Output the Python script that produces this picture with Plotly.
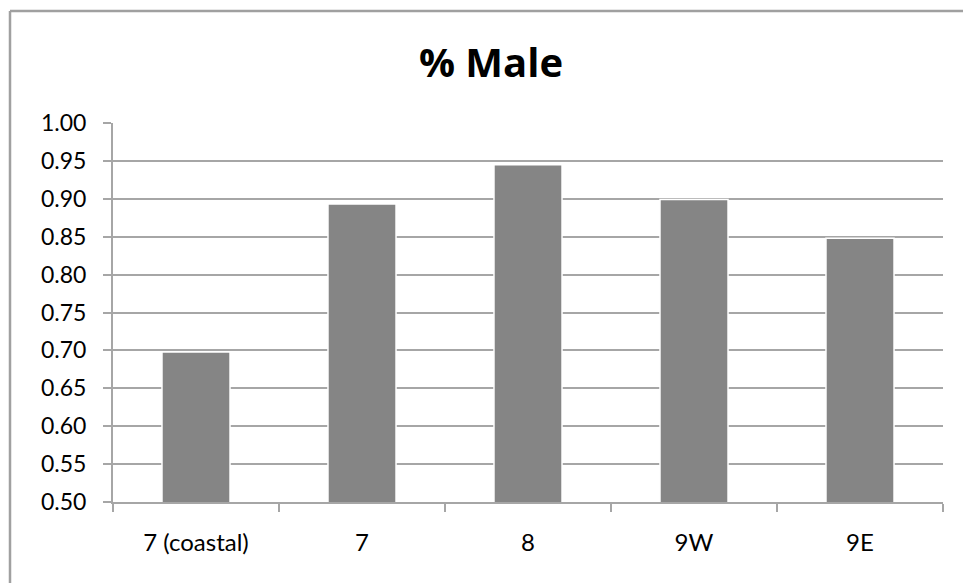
import plotly.graph_objects as go

# Share of males by area
areas = ["7 (coastal)", "7", "8", "9W", "9E"]
pct_male = [0.698, 0.893, 0.945, 0.899, 0.848]
y_ticks = [0.50, 0.55, 0.60, 0.65, 0.70, 0.75, 0.80, 0.85, 0.90, 0.95, 1.00]
y_tick_labels = [f"{v:.2f}" for v in y_ticks]

W, H = 963, 583
GRID = "#a6a6a6"
FRAME = "#a0a0a0"
FONT = "Lato"

fig = go.Figure(
    go.Bar(
        x=areas,
        y=pct_male,
        width=0.41,
        marker=dict(color="#858585", line=dict(color="#ffffff", width=1.5)),
        hoverinfo="skip",
    )
)

# chart frame: top and left edges (the rest runs past the page)
frame_left = -103 / 830
frame_top = 1 + 112 / 379

fig.update_layout(
    width=W,
    height=H,
    margin=dict(l=113, r=20, t=123, b=81),
    paper_bgcolor="#ffffff",
    plot_bgcolor="#ffffff",
    showlegend=False,
    font=dict(family=FONT, size=23, color="#000000"),
    title=dict(
        text="<b>% Male</b>",
        font=dict(family="Open Sans", size=40, color="#000000"),
        x=491 / W,
        xanchor="center",
        y=1 - 63 / H,
        yanchor="middle",
    ),
    shapes=[
        dict(type="line", xref="paper", yref="paper",
             x0=frame_left, x1=2.0, y0=frame_top, y1=frame_top,
             line=dict(color=FRAME, width=2.5), layer="below"),
        dict(type="line", xref="paper", yref="paper",
             x0=frame_left, x1=frame_left, y0=-1.0, y1=frame_top,
             line=dict(color=FRAME, width=2.5), layer="below"),
    ],
)

fig.update_yaxes(
    range=[0.5, 1.0],
    tickvals=y_ticks,
    ticktext=y_tick_labels,
    showgrid=True,
    gridcolor=GRID,
    gridwidth=2,
    showline=True,
    linecolor=GRID,
    linewidth=2,
    ticks="outside",
    ticklen=8,
    tickwidth=2,
    tickcolor=GRID,
    ticklabelstandoff=12,
    zeroline=False,
    tickfont=dict(family=FONT, size=23, color="#000000"),
)

fig.update_xaxes(
    showgrid=False,
    showline=True,
    linecolor=GRID,
    linewidth=2,
    ticks="outside",
    tickson="boundaries",
    ticklen=8,
    tickwidth=2,
    tickcolor=GRID,
    ticklabelstandoff=18,
    tickfont=dict(family=FONT, size=24, color="#000000"),
)

fig.write_html("out.html")
